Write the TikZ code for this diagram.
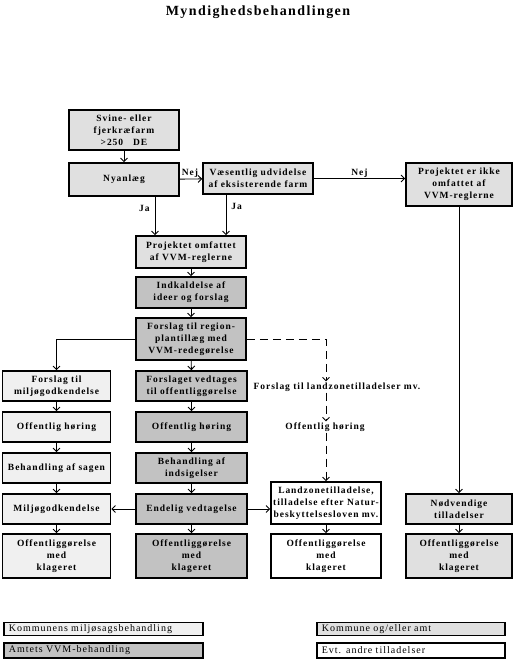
\documentclass[tikz,border=0pt]{standalone}
\usepackage{fontspec}
\setmainfont{Liberation Serif}
\newfontfamily\boksfont[LetterSpace=10]{Liberation Serif}
\usetikzlibrary{arrows.meta, calc}
\definecolor{LysGraa}{gray}{0.94}
\definecolor{MellemGraa}{gray}{0.88}
\definecolor{MoerkGraa}{gray}{0.76}

\begin{document}
\begin{tikzpicture}[x=1pt, y=-1pt,
    boks/.style={draw, line width=1.6pt, align=center, inner sep=1pt,
        font=\boksfont\bfseries\fontsize{9.5}{11.8}\selectfont},
    lys/.style={boks, fill=LysGraa, minimum width=108pt, minimum height=30pt},
    moerk/.style={boks, fill=MoerkGraa, minimum width=111pt, minimum height=30pt},
    mellem/.style={boks, fill=MellemGraa, minimum width=110pt, minimum height=31pt},
    hvid/.style={boks, fill=white, minimum width=110pt},
    tekst/.style={font=\boksfont\bfseries\fontsize{9.5}{11.8}\selectfont, inner sep=1pt},
    pil/.style={line width=0.9pt, -{Straight Barb[length=3.5pt, width=7pt]}},
    stiplet/.style={pil, dash pattern=on 8pt off 5pt},
    forklaring/.style={draw, line width=1.6pt, anchor=west, align=left, inner xsep=5pt,
        inner ysep=0pt, font=\boksfont\fontsize{10}{11}\selectfont}]

\useasboundingbox (0,0) rectangle (516,659);

\node[font=\boksfont\bfseries\fontsize{14}{16}\selectfont] (titel) at (258,12) {Myndighedsbehandlingen};

% top
\node[mellem, minimum height=40pt] (svine) at (124,130) {Svine- eller\\fjerkræfarm\\>250~~~DE};
\node[mellem, minimum height=33pt] (nyan) at (124,179.5) {Nyanlæg};
\node[mellem] (vaes) at (258,178.5) {Væsentlig udvidelse\\af eksisterende farm};
\node[mellem, minimum width=106pt, minimum height=43pt] (ikke) at (459,184.5)
    {Projektet er ikke\\omfattet af\\VVM-reglerne};
\node[mellem, minimum height=32pt] (proj) at (191,252) {Projektet omfattet\\af VVM-reglerne};
\node[moerk, minimum width=110pt, minimum height=31pt] (indk) at (191,292.5) {Indkaldelse af\\ideer og forslag};
\node[moerk, minimum width=110pt, minimum height=42pt] (regn) at (191,339)
    {Forslag til region-\\plantillæg med\\VVM-redegørelse};

% venstre kolonne (kommunen)
\node[lys] (lA) at (56.5,386) {Forslag til\\miljøgodkendelse};
\node[lys] (lB) at (56.5,427) {Offentlig høring};
\node[lys] (lC) at (56.5,468) {Behandling af sagen};
\node[lys] (lD) at (56.5,509) {Miljøgodkendelse};
\node[lys, minimum height=44pt] (lE) at (56.5,556) {Offentliggørelse\\med\\klageret};

% midterkolonne (amtet)
\node[moerk] (mA) at (191.5,386) {Forslaget vedtages\\til offentliggørelse};
\node[moerk] (mB) at (191.5,427) {Offentlig høring};
\node[moerk] (mC) at (191.5,468) {Behandling af\\indsigelser};
\node[moerk] (mD) at (191.5,509) {Endelig vedtagelse};
\node[moerk, minimum height=44pt] (mE) at (191.5,556) {Offentliggørelse\\med\\klageret};

% landzone
\node[tekst] (lzf) at (337,387) {Forslag til landzonetilladelser mv.};
\node[tekst] (hoer) at (325,427) {Offentlig høring};
\node[hvid, minimum height=42pt] (landz) at (326,503)
    {Landzonetilladelse,\\tilladelse efter Natur-\\beskyttelsesloven mv.};
\node[hvid, minimum height=44pt] (hE) at (326,556) {Offentliggørelse\\med\\klageret};

% andre tilladelser
\node[mellem, minimum width=106pt, minimum height=30pt] (noed) at (459,509) {Nødvendige\\tilladelser};
\node[mellem, minimum width=106pt, minimum height=44pt] (nE) at (459,556) {Offentliggørelse\\med\\klageret};

% pile
\draw[pil] (svine) -- (nyan);
\draw[pil] (nyan) -- node[tekst, above, pos=0.45] {Nej} (vaes);
\draw[pil] (vaes.east) -- node[tekst, above] {Nej} (vaes.east -| ikke.west);
\draw[pil] ([xshift=31pt]nyan.south) -- node[tekst, left=4pt, pos=0.3] {Ja} ([xshift=31pt]nyan.south |- proj.north);
\draw[pil] ([xshift=-32pt]vaes.south) -- node[tekst, right=4pt, pos=0.3] {Ja} ([xshift=-32pt]vaes.south |- proj.north);
\draw[pil] (proj) -- (indk);
\draw[pil] (indk) -- (regn);
\draw[pil] (regn.west) -| (lA.north);
\draw[pil] (regn) -- (mA);
\draw[stiplet] (regn.east) -| (lzf.north -| landz.north);
\draw[stiplet] (lzf.south -| landz.north) -- (hoer.north -| landz.north);
\draw[stiplet] (hoer.south -| landz.north) -- (landz.north);
\foreach \a/\b in {lA/lB, lB/lC, lC/lD, lD/lE, mA/mB, mB/mC, mC/mD, mD/mE, landz/hE, noed/nE}
    \draw[pil] (\a) -- (\b);
\draw[pil] (mD) -- (lD);
\draw[pil] (mD.east) -- (mD.east -| landz.west);
\draw[pil] (ikke.south -| noed.north) -- (noed.north);

% forklaring
\node[forklaring, fill=LysGraa, text width=189pt, minimum height=13pt] (f1) at (3,629) {Kommunens miljøsagsbehandling};
\node[forklaring, fill=MoerkGraa, text width=189pt, minimum height=15pt] (f2) at (3,650.5) {Amtets VVM-behandling};
\node[forklaring, fill=MellemGraa, text width=178pt, minimum height=13pt] (f3) at (316,629) {Kommune og/eller amt};
\node[forklaring, fill=white, text width=178pt, minimum height=15pt] (f4) at (316,650.5) {Evt. andre tilladelser};

\end{tikzpicture}
\end{document}
